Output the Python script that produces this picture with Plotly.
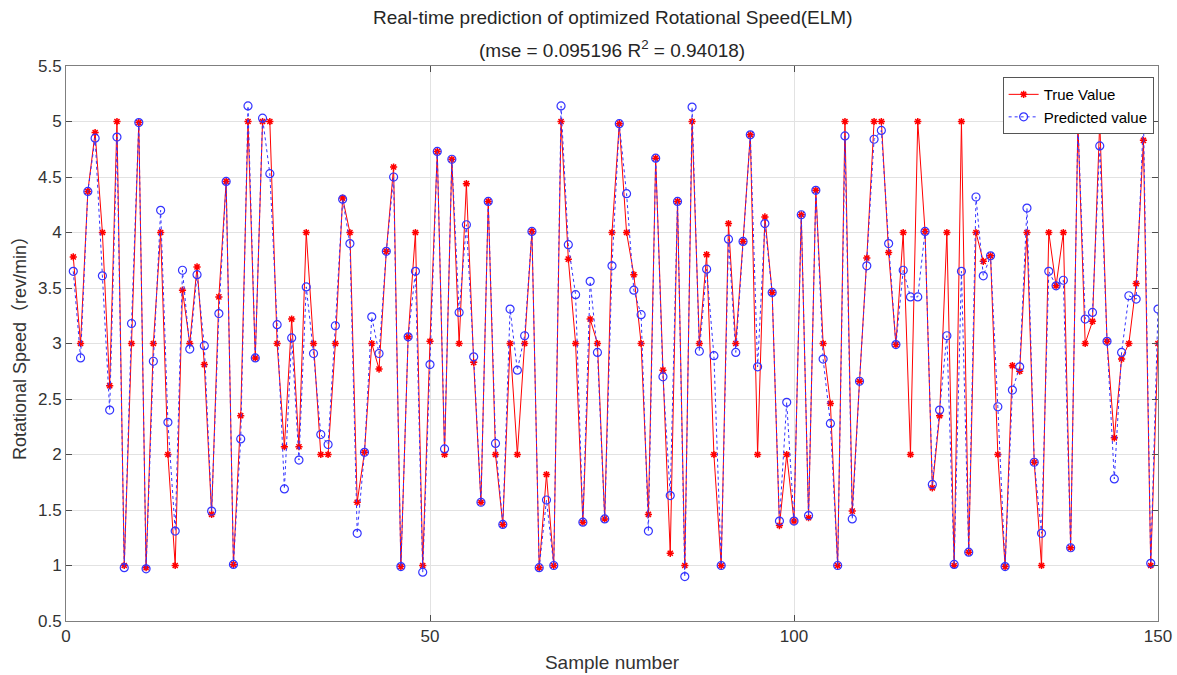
import plotly.graph_objects as go

samples = list(range(1, 151))

true_values = [
    3.78, 3.0, 4.37, 4.9, 4.0, 2.62, 5.0, 1.0, 3.0, 4.99,
    0.98, 3.0, 4.0, 2.0, 1.0, 3.48, 3.0, 3.69, 2.81, 1.46,
    3.42, 4.46, 1.01, 2.35, 5.0, 2.87, 5.0, 5.0, 3.0, 2.07,
    3.22, 2.07, 4.0, 3.0, 2.0, 2.0, 3.0, 4.31, 4.0, 1.57,
    2.02, 3.0, 2.77, 3.83, 4.59, 0.99, 3.06, 4.0, 1.0, 3.02,
    4.73, 2.0, 4.66, 3.0, 4.44, 2.83, 1.57, 4.28, 2.0, 1.37,
    3.0, 2.0, 3.0, 4.01, 0.98, 1.82, 1.0, 5.0, 3.76, 3.0,
    1.39, 3.22, 3.0, 1.42, 4.0, 4.98, 4.0, 3.62, 3.0, 1.46,
    4.67, 2.76, 1.11, 4.28, 1.0, 5.0, 3.0, 3.80, 2.0, 1.0,
    4.08, 3.0, 3.92, 4.88, 2.0, 4.14, 3.46, 1.36, 2.0, 1.40,
    4.16, 1.43, 4.38, 3.0, 2.46, 1.0, 5.0, 1.49, 2.66, 3.77,
    5.0, 5.0, 3.82, 2.99, 4.0, 2.0, 5.0, 4.01, 1.70, 2.35,
    4.0, 1.0, 5.0, 1.12, 4.0, 3.74, 3.79, 2.0, 0.99, 2.80,
    2.75, 4.0, 1.93, 1.0, 4.0, 3.52, 4.0, 1.16, 4.99, 3.0,
    3.2, 5.0, 3.02, 2.15, 2.86, 3.0, 3.54, 4.83, 1.0, 3.0,
]

predicted_values = [
    3.65, 2.87, 4.37, 4.85, 3.61, 2.40, 4.86, 0.98, 3.18, 4.99,
    0.97, 2.84, 4.2, 2.29, 1.31, 3.66, 2.95, 3.62, 2.98, 1.49,
    3.27, 4.46, 1.01, 2.14, 5.14, 2.87, 5.03, 4.53, 3.17, 1.69,
    3.05, 1.95, 3.51, 2.91, 2.18, 2.09, 3.16, 4.30, 3.90, 1.29,
    2.02, 3.24, 2.91, 3.83, 4.50, 0.99, 3.06, 3.65, 0.94, 2.81,
    4.73, 2.05, 4.66, 3.28, 4.07, 2.88, 1.57, 4.28, 2.10, 1.37,
    3.31, 2.76, 3.07, 4.01, 0.98, 1.59, 1.0, 5.14, 3.89, 3.44,
    1.39, 3.56, 2.92, 1.42, 3.70, 4.98, 4.35, 3.48, 3.26, 1.31,
    4.67, 2.70, 1.63, 4.28, 0.90, 5.13, 2.93, 3.67, 2.89, 1.0,
    3.94, 2.92, 3.92, 4.88, 2.79, 4.08, 3.46, 1.40, 2.47, 1.40,
    4.16, 1.45, 4.38, 2.86, 2.28, 1.0, 4.87, 1.42, 2.66, 3.70,
    4.84, 4.92, 3.90, 2.99, 3.66, 3.42, 3.42, 4.01, 1.73, 2.40,
    3.07, 1.01, 3.65, 1.12, 4.32, 3.61, 3.79, 2.43, 0.99, 2.58,
    2.79, 4.22, 1.93, 1.29, 3.65, 3.52, 3.57, 1.16, 4.99, 3.22,
    3.28, 4.78, 3.02, 1.78, 2.92, 3.43, 3.40, 5.03, 1.02, 3.31,
]

x_ticks = [0, 50, 100, 150]
y_ticks = [0.5, 1, 1.5, 2, 2.5, 3, 3.5, 4, 4.5, 5, 5.5]
y_tick_labels = ["0.5", "1", "1.5", "2", "2.5", "3", "3.5", "4", "4.5", "5", "5.5"]

title_line1 = "Real-time prediction of optimized Rotational Speed(ELM)"
title_line2 = "(mse = 0.095196 R<sup>2</sup> = 0.94018)"

FONT = "Liberation Sans, Arial, sans-serif"

fig = go.Figure()
fig.add_trace(go.Scatter(
    x=samples, y=true_values, name="True Value", mode="lines+markers",
    line=dict(color="#ff0000", width=1),
    marker=dict(symbol="asterisk-open", size=6, color="#ff0000",
                line=dict(color="#ff0000", width=1.5)),
))
fig.add_trace(go.Scatter(
    x=samples, y=predicted_values, name="Predicted value", mode="lines+markers",
    line=dict(color="#3333ff", width=1, dash="dot"),
    marker=dict(symbol="circle-open", size=8, color="#3333ff",
                line=dict(color="#3333ff", width=1.2)),
))

axis_common = dict(
    showline=True, mirror="ticks", linecolor="#7f7f7f", linewidth=1,
    showgrid=True, gridcolor="#e2e2e2", gridwidth=1,
    ticks="inside", ticklen=6, tickcolor="#4d4d4d",
    zeroline=False, automargin=False,
    tickfont=dict(family=FONT, size=17, color="#333333"),
)

fig.update_layout(
    template="plotly_white",
    width=1177, height=675,
    margin=dict(l=66, r=19, t=66, b=54, autoexpand=False),
    paper_bgcolor="white", plot_bgcolor="white",
    xaxis=dict(range=[0, 150], tickvals=x_ticks,
               title=dict(text="Sample number", standoff=10,
                          font=dict(family=FONT, size=19, color="#333333")),
               **axis_common),
    yaxis=dict(range=[0.5, 5.5], tickvals=y_ticks, ticktext=y_tick_labels,
               title=dict(text="Rotational Speed（rev/min）", standoff=6,
                          font=dict(family="Liberation Sans, Noto Sans CJK SC, sans-serif", size=18, color="#333333")),
               **axis_common),
    legend=dict(
        x=0.996, y=0.98, xanchor="right", yanchor="top",
        bgcolor="white", bordercolor="#555555", borderwidth=1,
        font=dict(family=FONT, size=15, color="#000000"),
        tracegroupgap=0, itemwidth=30,
    ),
    showlegend=True,
    annotations=[
        dict(text=title_line1, x=0.5, xref="paper", y=1.0865, yref="paper",
             xanchor="center", yanchor="middle", showarrow=False,
             font=dict(family=FONT, size=19, color="#262626")),
        dict(text=title_line2, x=0.5, xref="paper", y=1.031, yref="paper",
             xanchor="center", yanchor="middle", showarrow=False,
             font=dict(family=FONT, size=19, color="#262626")),
    ],
)

fig.write_html("out.html", config={"displayModeBar": False},
               post_script="document.body.style.margin='0';")
